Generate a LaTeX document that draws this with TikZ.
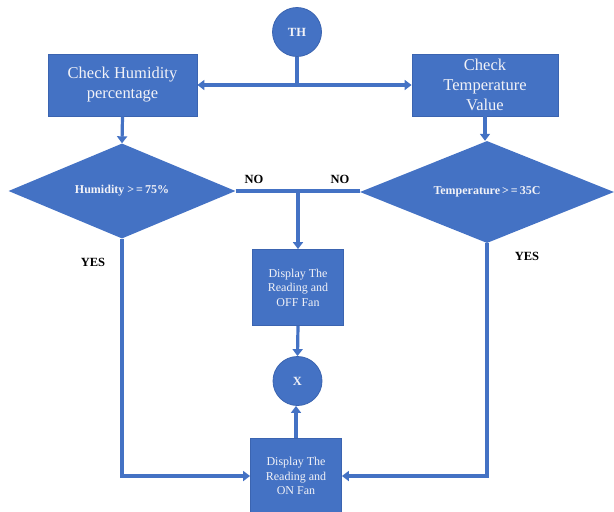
\documentclass[tikz,border=0pt]{standalone}
\usepackage{fontspec}
\setmainfont{Liberation Serif}
\usetikzlibrary{shapes.geometric,arrows.meta}
\definecolor{fblue}{HTML}{4472C4}
\definecolor{eblue}{HTML}{3B64B0}
\definecolor{tcol}{HTML}{F2F2F7}
\begin{document}
\begin{tikzpicture}[x=1pt,y=-1pt,
  box/.style={draw=eblue, line width=0.8pt, fill=fblue, text=tcol, align=center, inner sep=0pt},
  dia/.style={diamond, fill=fblue, text=tcol, inner sep=0pt, font=\bfseries\fontsize{12}{14}\selectfont},
  circ/.style={circle, draw=eblue, line width=0.8pt, fill=fblue, text=tcol, inner sep=0pt, minimum size=49pt, font=\bfseries\fontsize{12.5}{14}\selectfont},
  conn/.style={draw=fblue, line width=3.2pt},
  arr/.style={conn, -{Triangle[width=10pt,length=7pt]}},
  lbl/.style={font=\bfseries\fontsize{12.5}{14}\selectfont, text=black}]
\useasboundingbox (0,0) rectangle (614,512);
\node[circ] (th) at (297,32) {TH};
\node[box, minimum width=149pt, minimum height=62pt, font=\fontsize{16.5}{20}\selectfont] (hum) at (122.5,85) {Check Humidity\\percentage};
\node[box, minimum width=146pt, minimum height=62pt, font=\fontsize{16.5}{20}\selectfont] (temp) at (485,85) {Check\\Temperature\\Value};
\node[dia, shape aspect=2.39, minimum width=227pt, minimum height=95pt] (hdia) at (122,191) {Humidity >\,=\,75\%};
\node[dia, shape aspect=2.49, minimum width=254pt, minimum height=102pt] (tdia) at (487,192) {Temperature\,>\,=\,35C};
\node[box, minimum width=91pt, minimum height=76pt, font=\fontsize{12}{14.5}\selectfont] (off) at (298,287.5) {Display The\\Reading and\\OFF Fan};
\node[circ] (x) at (297.5,381) {X};
\node[box, minimum width=91pt, minimum height=75pt, font=\fontsize{12}{14.5}\selectfont] (on) at (296,476) {Display The\\Reading and\\ON Fan};
\draw[conn] (th.south) -- (th.south |- hum.east) coordinate (j1);
\draw[arr] (j1) -- (hum.east);
\draw[arr] (j1) -- (temp.west);
\draw[arr] (hum.south) -- (hdia.north);
\draw[arr] (temp.south) -- (temp.south |- tdia.north);
\draw[conn] (hdia.east) -- (hdia.east -| tdia.west);
\coordinate (j2) at (hdia.east -| off.north);
\draw[arr] (j2) -- (off.north);
\draw[arr] (off.south) -- (x.north);
\draw[arr] (on.north) -- (on.north |- x.south);
\draw[arr] (hdia.south) -- (hdia.south |- on.west) -- (on.west);
\draw[arr] (tdia.south) -- (tdia.south |- on.east) -- (on.east);
\node[lbl] (no1) at (254,179) {NO};
\node[lbl] (no2) at (340,179) {NO};
\node[lbl] (yes1) at (93,262) {YES};
\node[lbl] (yes2) at (527,256) {YES};
\end{tikzpicture}
\end{document}
